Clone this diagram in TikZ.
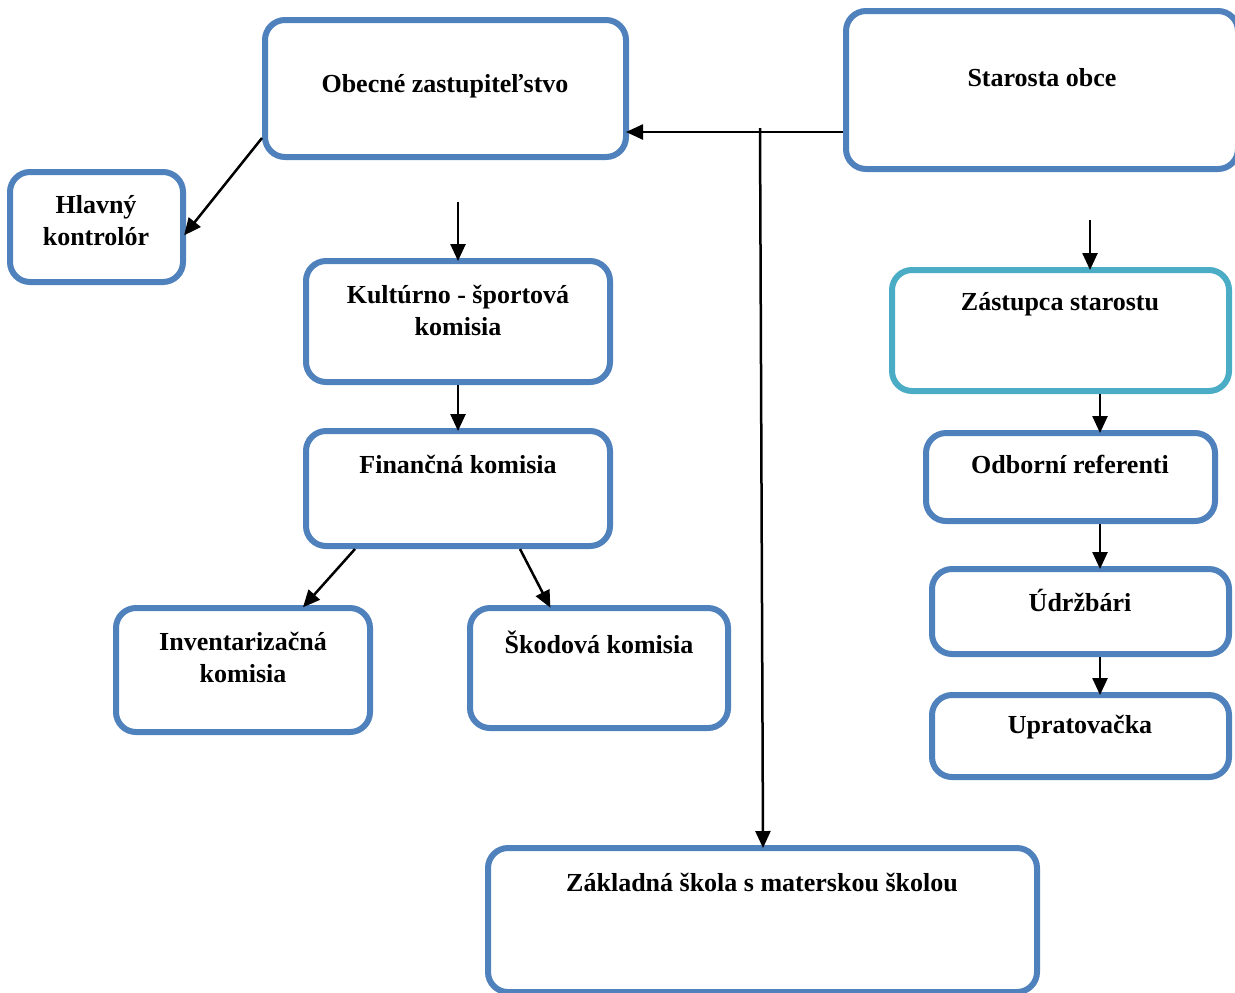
\documentclass[tikz,border=0pt]{standalone}
\usepackage{fontspec}
\setmainfont{Liberation Serif}
\usetikzlibrary{arrows.meta}
\definecolor{boxblue}{HTML}{4F81BD}
\definecolor{boxteal}{HTML}{4BACC6}
\tikzset{
  box/.style={draw=boxblue, line width=3pt, rounded corners=10pt, fill=white},
  lbl/.style={font=\fontsize{13}{16}\selectfont\bfseries, align=center, inner sep=0pt},
  arr/.style={-{Triangle[length=8.5pt,width=7.5pt]}, line width=1.25pt, shorten >=-1.5pt},
}
\begin{document}
\begin{tikzpicture}[x=0.5pt, y=-0.5pt]
  \def\Xl{458};
  \def\Xr{1100};

  \clip (0,0) rectangle (1235,992);
  \fill[white] (0,0) rectangle (1235,992);

  % boxes
  \node[box, minimum width=180.5pt, minimum height=68.5pt] (obec) at (445.5,88.5) {};
  \node[box, minimum width=196pt, minimum height=79pt] (star) at (1042,90) {};
  \node[box, minimum width=86.5pt, minimum height=55pt] (hlav) at (96.5,227) {};
  \node[box, minimum width=152pt, minimum height=60.5pt] (kult) at (\Xl,321.5) {};
  \node[box, minimum width=152pt, minimum height=57.5pt] (fin) at (\Xl,488.5) {};
  \node[box, minimum width=127pt, minimum height=62pt] (inv) at (243,670) {};
  \node[box, minimum width=129pt, minimum height=60pt] (skod) at (599,668) {};
  \node[box, draw=boxteal, minimum width=168.5pt, minimum height=60.5pt] (zast) at (1060.5,330.5) {};
  \node[box, minimum width=144.5pt, minimum height=44pt] (odb) at (1070.5,477) {};
  \node[box, minimum width=148.5pt, minimum height=42.5pt] (udr) at (1080.5,611.5) {};
  \node[box, minimum width=148.5pt, minimum height=41pt] (upr) at (1080.5,736) {};
  \node[box, minimum width=274.5pt, minimum height=72pt] (zs) at (762.5,920) {};

  % arrows
  \coordinate (split) at (760,128);
  \coordinate (kultin) at (\Xl,202);
  \coordinate (zastin) at (1090,220);
  \draw[arr] (star.west |- 0,132) -- (obec.east |- 0,132);
  \draw[arr] (split) -- (zs.north -| 763,0);
  \draw[arr] (obec.west |- 0,138) -- (hlav.east |- 0,233);
  \draw[arr] (kultin) -- (kult.north);
  \draw[arr] (kult.south) -- (fin.north);
  \draw[arr] (fin.south -| 355,0) -- (inv.north -| 305,0);
  \draw[arr] (fin.south -| 520,0) -- (skod.north -| 549,0);
  \draw[arr] (zastin) -- (zast.north -| 1090,0);
  \draw[arr] (zast.south -| \Xr,0) -- (odb.north -| \Xr,0);
  \draw[arr] (odb.south -| \Xr,0) -- (udr.north -| \Xr,0);
  \draw[arr] (udr.south -| \Xr,0) -- (upr.north -| \Xr,0);

  % labels
  \node[lbl] (obec-t) at (445,86) {Obecné zastupiteľstvo};
  \node[lbl] (star-t) at (1042,78) {Starosta obce};
  \node[lbl] (hlav-t) at (96,221) {Hlavný\\kontrolór};
  \node[lbl] (kult-t) at (\Xl,310) {Kultúrno - športová\\komisia};
  \node[lbl] (fin-t) at (\Xl,464) {Finančná komisia};
  \node[lbl] (inv-t) at (243,657) {Inventarizačná\\komisia};
  \node[lbl] (skod-t) at (599,642) {Škodová komisia};
  \node[lbl] (zast-t) at (1060,304) {Zástupca starostu};
  \node[lbl] (odb-t) at (1070,464) {Odborní referenti};
  \node[lbl] (udr-t) at (1080,600) {Údržbári};
  \node[lbl] (upr-t) at (1080,727) {Upratovačka};
  \node[lbl] (zs-t) at (762,882) {Základná škola s materskou školou};
\end{tikzpicture}
\end{document}
